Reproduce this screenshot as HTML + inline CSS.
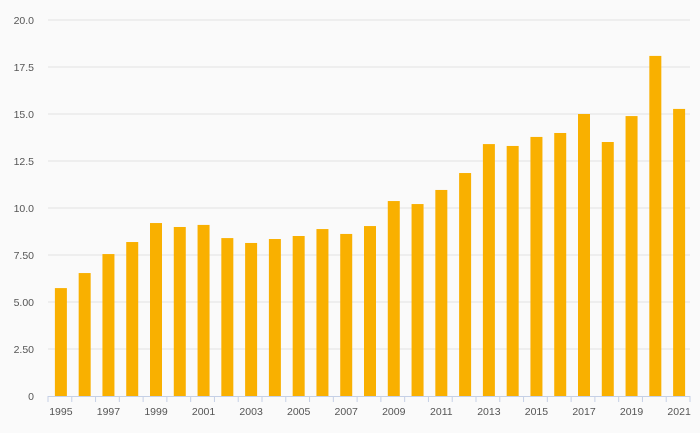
<!DOCTYPE html>
<html><head><meta charset="utf-8"><style>
html,body{margin:0;padding:0;background:#fafafa;}
svg{display:block;font-family:"Liberation Sans",sans-serif;}
</style></head><body>
<svg id="chart" width="700" height="433" viewBox="0 0 700 433">
<rect width="700" height="433" fill="#fafafa"/>
<g id="grid"></g><g id="bars"></g><g id="axis"></g>
</svg>
<script>
const years=[1995,1996,1997,1998,1999,2000,2001,2002,2003,2004,2005,2006,2007,2008,2009,2010,2011,2012,2013,2014,2015,2016,2017,2018,2019,2020,2021];
const values=[5.74,6.54,7.55,8.19,9.2,8.99,9.1,8.4,8.14,8.35,8.51,8.88,8.62,9.04,10.37,10.21,10.96,11.86,13.4,13.3,13.78,13.99,15.0,13.51,14.89,18.09,15.27];
const yTicks=[0,2.5,5,7.5,10,12.5,15,17.5,20];
const yTickLabels=["0","2.50","5.00","7.50","10.0","12.5","15.0","17.5","20.0"];
const NS="http://www.w3.org/2000/svg";
const X0=48,X1=690,Y0=396,Y1=20,YMAX=20;
const band=(X1-X0)/years.length;
const y=v=>Y0-(v/YMAX)*(Y0-Y1);
const xc=i=>X0+band*(i+0.5)+1;
function mk(t,a,p){const e=document.createElementNS(NS,t);for(const k in a)e.setAttribute(k,a[k]);p.appendChild(e);return e;}
const grid=document.getElementById('grid'),bars=document.getElementById('bars'),axis=document.getElementById('axis');
yTicks.forEach((v,i)=>{
  if(v>0){const l=mk('line',{x1:X0,x2:X1,y1:y(v),y2:y(v),stroke:'#e3e3e3','stroke-width':1},grid);
  
  }
  const t=mk('text',{x:34,y:y(v)+4,'text-anchor':'end','font-size':10.5,fill:'#555'},axis);
  t.textContent=yTickLabels[i];
  
  
});
values.forEach((v,i)=>{
  const r=mk('rect',{x:xc(i)-6,y:y(v),width:12,height:Y0-y(v),fill:'#f9b000'},bars);
  
  
});
const ax=mk('line',{x1:X0,x2:X1,y1:Y0+0.5,y2:Y0+0.5,stroke:'#c5d0e6','stroke-width':1},axis);


for(let i=0;i<=years.length;i++){
  const tk=mk('line',{x1:X0+band*i,x2:X0+band*i,y1:Y0,y2:Y0+6,stroke:'#c5d0e6','stroke-width':1},axis);
  
  
}
years.forEach((yr,i)=>{
  if(i%2) return;
  const t=mk('text',{x:xc(i),y:415,'text-anchor':'middle','font-size':10.5,fill:'#555'},axis);
  t.textContent=yr;
  
  
});
</script>
</body></html>
